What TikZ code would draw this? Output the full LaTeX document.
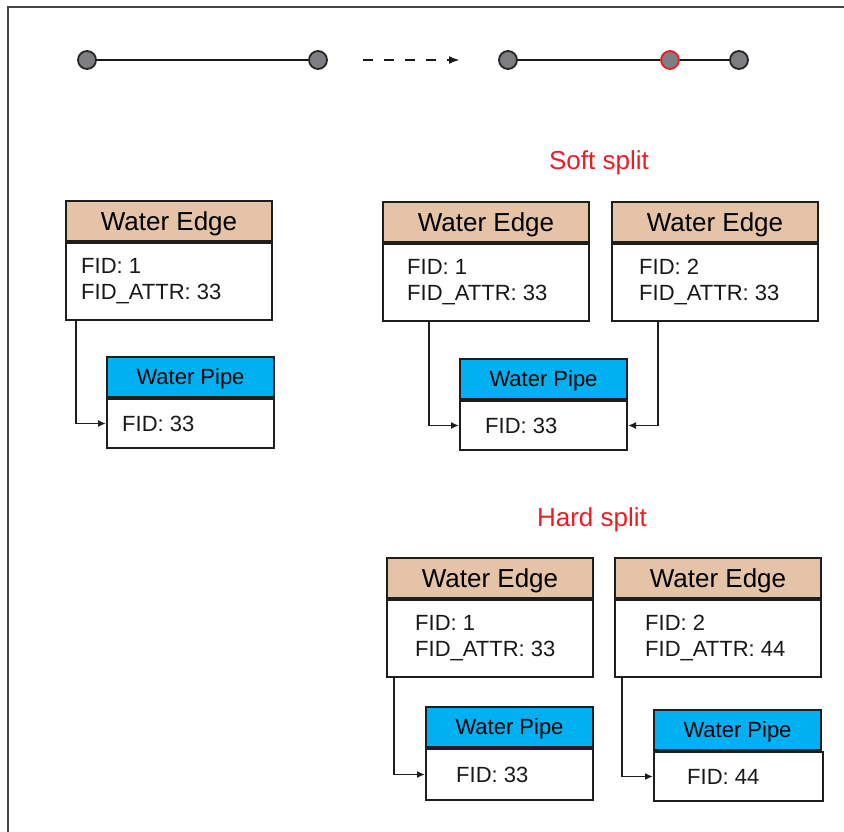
\documentclass[tikz,border=0pt]{standalone}
\usepackage{fontspec}
\setmainfont{Liberation Sans}
\usetikzlibrary{arrows.meta}
\definecolor{headtan}{RGB}{228,195,166}
\definecolor{pipeblue}{RGB}{0,176,240}
\definecolor{dotgray}{RGB}{125,125,130}
\definecolor{splitred}{RGB}{237,28,36}
\definecolor{framegray}{RGB}{70,70,70}
\definecolor{boxline}{RGB}{30,30,30}
\tikzset{
  box/.style={draw=boxline, line width=2pt, inner sep=0pt, anchor=north west},
  ehead/.style={box, fill=headtan, minimum width=206, minimum height=40, text depth=0pt, font=\fontsize{26}{28}\selectfont},
  ebody/.style={box, fill=white, minimum width=206, minimum height=77},
  phead/.style={box, fill=pipeblue, minimum width=167, minimum height=40, text depth=0pt, font=\fontsize{22}{24}\selectfont},
  pbody/.style={box, fill=white, minimum width=167, minimum height=49},
  btext/.style={inner sep=0pt, anchor=west, align=left, font=\fontsize{22}{26}\selectfont, text=black!90},
  conn/.style={draw=boxline, line width=1.6pt, -{Latex[length=8pt,width=7pt]}},
  dot/.style={circle, draw=black!85, line width=1.8pt, fill=dotgray, minimum size=18pt, inner sep=0pt},
  reddot/.style={dot, draw=splitred},
  seg/.style={draw=black!90, line width=2.2pt},
  lbl/.style={text=splitred, font=\fontsize{26}{28}\selectfont, anchor=base, inner sep=0pt},
}
\begin{document}
\begin{tikzpicture}[x=1pt,y=-1pt]
\useasboundingbox (0,0) rectangle (844,832);
% frame
\draw[framegray, line width=1.5pt] (8,832) -- (8,7) -- (844,7);

% top sequence
\node[dot] (c1) at (87,60) {};
\node[dot] (c2) at (318,60) {};
\draw[seg] (c1) -- (c2);
\coordinate (da) at (363,60);
\coordinate (db) at (460,60);
\draw[seg, dash pattern=on 10pt off 11pt, -{Latex[length=11pt,width=8pt]}] (da) -- (db);
\node[dot] (c3) at (508,60) {};
\node[reddot] (c4) at (670,60) {};
\node[dot] (c5) at (739,60) {};
\draw[seg] (c3) -- (c4);
\draw[seg] (c4) -- (c5);

% left block
\node[ehead] (e1h) at (65,200) {Water Edge};
\node[ebody] (e1b) at (e1h.south west) {};
\node[btext] (e1t) at ([xshift=16pt]e1b.west) {FID: 1\\FID\_ATTR: 33};
\node[phead] (p1h) at (106,356) {Water Pipe};
\node[pbody] (p1b) at (p1h.south west) {};
\node[btext] (p1t) at ([xshift=16pt]p1b.west) {FID: 33};
\draw[conn] ([xshift=11pt]e1b.south west) |- (p1b.west);

% soft split
\node[lbl] (soft) at (599,170) {Soft split};
\node[ehead] (s1h) at (382,201) {Water Edge};
\node[ebody] (s1b) at (s1h.south west) {};
\node[btext] (s1t) at ([xshift=25pt]s1b.west) {FID: 1\\FID\_ATTR: 33};
\node[ehead] (s2h) at (611,201) {Water Edge};
\node[ebody] (s2b) at (s2h.south west) {};
\node[btext] (s2t) at ([xshift=28pt]s2b.west) {FID: 2\\FID\_ATTR: 33};
\node[phead] (sph) at (459,358) {Water Pipe};
\node[pbody] (spb) at (sph.south west) {};
\node[btext] (spt) at ([xshift=26pt]spb.west) {FID: 33};
\draw[conn] ([xshift=47pt]s1b.south west) |- (spb.west);
\draw[conn] ([xshift=47pt]s2b.south west) |- (spb.east);

% hard split
\node[lbl] (hard) at (592,526) {Hard split};
\node[ehead] (h1h) at (386,557) {Water Edge};
\node[ebody] (h1b) at (h1h.south west) {};
\node[btext] (h1t) at ([xshift=29pt]h1b.west) {FID: 1\\FID\_ATTR: 33};
\node[ehead] (h2h) at (614,557) {Water Edge};
\node[ebody] (h2b) at (h2h.south west) {};
\node[btext] (h2t) at ([xshift=31pt]h2b.west) {FID: 2\\FID\_ATTR: 44};
\node[phead] (hp1h) at (425,706) {Water Pipe};
\node[pbody, minimum height=51] (hp1b) at (hp1h.south west) {};
\node[btext] (hp1t) at ([xshift=31pt]hp1b.west) {FID: 33};
\node[phead] (hp2h) at (653,709) {Water Pipe};
\node[pbody, minimum width=169] (hp2b) at (hp2h.south west) {};
\node[btext] (hp2t) at ([xshift=34pt]hp2b.west) {FID: 44};
\draw[conn] ([xshift=8pt]h1b.south west) |- (hp1b.west);
\draw[conn] ([xshift=8pt]h2b.south west) |- (hp2b.west);
\end{tikzpicture}
\end{document}
